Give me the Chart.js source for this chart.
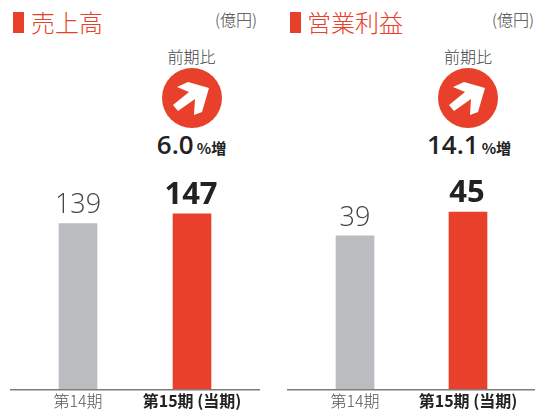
<!DOCTYPE html>
<html lang="ja">
<head>
<meta charset="utf-8">
<title>売上高・営業利益</title>
<script src="https://cdn.jsdelivr.net/npm/chart.js@4"></script>
<style>
  html, body { margin: 0; padding: 0; background: #fff; }
  body { width: 535px; height: 410px; position: relative; overflow: hidden;
         font-family: "Noto Sans CJK JP", sans-serif; color: #333; }
  .abs { position: absolute; white-space: nowrap; line-height: 1; }
  .mark { position: absolute; top: 12px; width: 11px; height: 21px; background: #e8402a; }
  .title { top: 10px; font-size: 24px; font-weight: 300; color: #e8402a; }
  .unit { top: 11px; font-size: 16px; font-weight: 300; color: #444; }
  .yoy { top: 48px; font-size: 16px; font-weight: 300; color: #444; transform: translateX(-50%); }
  .pct { top: 131px; transform: translateX(-50%); font-weight: 600; font-family: "Open Sans", sans-serif; font-size: 26px; color: #222; }
  .pct small { font-family: "Noto Sans CJK JP", sans-serif; font-size: 15px; font-weight: 700; margin-left: 3px; }
  svg.up { position: absolute; top: 68px; width: 60px; height: 60px; }
  canvas { position: absolute; top: 170px; }
</style>
</head>
<body>
<div class="mark" style="left:13px"></div>
<div class="abs title" style="left:31px">売上高</div>
<div class="abs unit" style="left:215px">(億円)</div>
<div class="abs yoy" style="left:191.5px">前期比</div>
<svg class="up" style="left:162px" viewBox="0 0 60 60"><circle cx="30" cy="30" r="30" fill="#e8402a"/><polygon points="47,20 26,14 15,19 27,24 11,37 16,43 33,31 32,47 40,44" fill="#fff"/></svg>
<div class="abs pct" style="left:191.5px">6.0<small>%増</small></div>

<div class="mark" style="left:290px"></div>
<div class="abs title" style="left:307px">営業利益</div>
<div class="abs unit" style="left:492px">(億円)</div>
<div class="abs yoy" style="left:468px">前期比</div>
<svg class="up" style="left:438px" viewBox="0 0 60 60"><circle cx="30" cy="30" r="30" fill="#e8402a"/><polygon points="47,20 26,14 15,19 27,24 11,37 16,43 33,31 32,47 40,44" fill="#fff"/></svg>
<div class="abs pct" style="left:469px">14.1<small>%増</small></div>

<canvas id="salesChart" style="left:0" width="270" height="243"></canvas>
<canvas id="profitChart" style="left:270px" width="265" height="243"></canvas>

<script>
const $ = id => document.getElementById(id);

const periods = ["第14期", "第15期 (当期)"];
const salesValues = [139, 147];
const profitValues = [39, 45];
const barColors = ["#bbbcc0", "#e8402a"];

// baseline runs wider than the plot area, and value labels sit above each bar
const barExtras = {
  id: "barExtras",
  afterDatasetsDraw(chart, args, opts) {
    const ctx = chart.ctx;
    const y0 = chart.scales.y.getPixelForValue(0);
    ctx.save();
    ctx.strokeStyle = "#7d7d7d";
    ctx.lineWidth = 1.5;
    ctx.beginPath();
    ctx.moveTo(opts.lineFrom, y0);
    ctx.lineTo(opts.lineTo, y0);
    ctx.stroke();

    ctx.textAlign = "center";
    ctx.textBaseline = "alphabetic";
    chart.getDatasetMeta(0).data.forEach((bar, i) => {
      const current = i === 1;
      ctx.font = (current ? "700 31px" : "300 27px") + ' "Open Sans", sans-serif';
      ctx.fillStyle = current ? "#222" : "#444";
      ctx.fillText(chart.data.datasets[0].data[i], bar.x - (current ? 1 : 0), bar.y - 10);
    });
    ctx.restore();
  }
};

function makeChart(id, values, yMax, left, right, lineFrom, lineTo) {
  return new Chart($(id).getContext("2d"), {
    type: "bar",
    data: {
      labels: periods,
      datasets: [{ data: values, backgroundColor: barColors, barThickness: 38 }]
    },
    options: {
      responsive: false,
      animation: false,
      layout: { padding: { top: 20, left: left, right: right, bottom: 0 } },
      plugins: {
        legend: { display: false },
        tooltip: { enabled: false },
        barExtras: { lineFrom, lineTo }
      },
      scales: {
        x: {
          grid: { display: false, drawTicks: false },
          border: { display: false },
          ticks: {
            padding: 2,
            maxRotation: 0,
            autoSkip: false,
            color: c => c.index === 1 ? "#222" : "#555",
            font: c => ({
              family: '"Noto Sans CJK JP", sans-serif',
              size: 16,
              weight: c.index === 1 ? "700" : "300"
            })
          }
        },
        y: { display: false, min: 0, max: yMax }
      }
    },
    plugins: [barExtras]
  });
}

makeChart("salesChart", salesValues, 167, 21, 21, 10, 260);
makeChart("profitChart", profitValues, 50.6, 28.5, 10.5, 17, 265);
</script>
</body>
</html>
